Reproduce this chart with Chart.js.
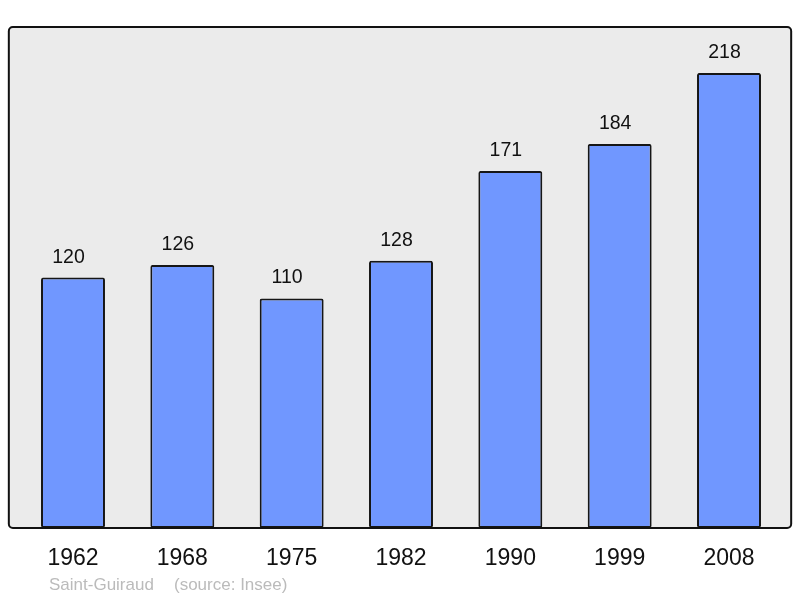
<!DOCTYPE html>
<html>
<head>
<meta charset="utf-8">
<script src="https://cdn.jsdelivr.net/npm/chart.js@4"></script>
<style>
  html, body { margin: 0; padding: 0; background: #fff; }
  #wrap { width: 800px; height: 598px; }
</style>
</head>
<body>
<div id="wrap"><canvas id="popChart"></canvas></div>
<script>
const years = ['1962', '1968', '1975', '1982', '1990', '1999', '2008']
const population = [120, 126, 110, 128, 171, 184, 218]
const yMax = 240
const commune = 'Saint-Guiraud'
const source = '(source: Insee)'

const FONT = "'Liberation Sans', Arial, sans-serif"

// grey panel with rounded corners behind the bars
const panel = {
  id: 'panel',
  beforeDatasetsDraw: chart => {
    const { ctx, chartArea } = chart
    const x0 = chartArea.left - 9.5
    const x1 = chartArea.right + 7.5
    ctx.save()
    ctx.beginPath()
    ctx.roundRect(x0, chartArea.top, x1 - x0, chartArea.bottom - chartArea.top, 4)
    ctx.fillStyle = '#ebebeb'
    ctx.fill()
    ctx.restore()
  },
  afterDatasetsDraw: chart => {
    const { ctx, chartArea } = chart
    const x0 = chartArea.left - 9.5
    const x1 = chartArea.right + 7.5
    ctx.save()
    ctx.beginPath()
    ctx.roundRect(x0, chartArea.top, x1 - x0, chartArea.bottom - chartArea.top, 4)
    ctx.lineWidth = 2
    ctx.strokeStyle = '#111'
    ctx.stroke()

    // values above bars
    ctx.fillStyle = '#111'
    ctx.font = '19.5px ' + FONT
    ctx.textAlign = 'center'
    ctx.textBaseline = 'alphabetic'
    chart.getDatasetMeta(0).data.forEach((bar, i) => {
      ctx.fillText(population[i], bar.x - 4.5, bar.y - 15)
    })
    ctx.restore()
  },
  afterDraw: chart => {
    const { ctx } = chart
    ctx.save()
    ctx.fillStyle = '#bbbbbb'
    ctx.font = '17px ' + FONT
    ctx.textAlign = 'left'
    ctx.textBaseline = 'alphabetic'
    ctx.fillText(commune, 49, 590)
    ctx.fillText(source, 174, 590)
    ctx.restore()
  }
}

const ctx = document.getElementById('popChart').getContext('2d')
new Chart(ctx, {
  type: 'bar',
  data: {
    labels: years,
    datasets: [
      {
        data: population,
        backgroundColor: '#7097ff',
        borderColor: '#161616',
        borderWidth: 2,
        borderRadius: 2,
        borderSkipped: false,
        barPercentage: 0.585,
        categoryPercentage: 1
      }
    ]
  },
  options: {
    responsive: true,
    maintainAspectRatio: false,
    animation: false,
    layout: {
      padding: { left: 18.33, right: 16.33, top: 27, bottom: 0 }
    },
    plugins: {
      legend: { display: false },
      tooltip: { enabled: false }
    },
    scales: {
      x: {
        grid: { display: false, drawTicks: false },
        border: { display: false },
        ticks: {
          color: '#111',
          font: { family: FONT, size: 23 },
          padding: 17,
          maxRotation: 0
        },
        afterFit: scale => { scale.height = 70 }
      },
      y: {
        display: false,
        min: 0,
        max: yMax
      }
    }
  },
  plugins: [panel]
})
</script>
</body>
</html>
